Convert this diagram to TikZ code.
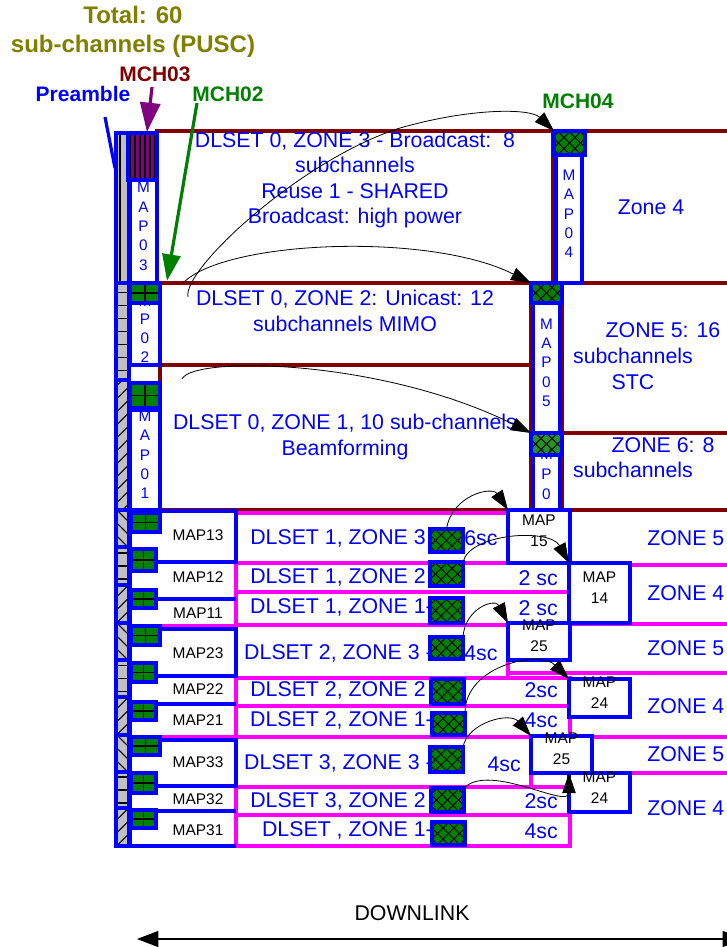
\documentclass[tikz,border=0pt]{standalone}
\usepackage{fontspec}
\setmainfont{Liberation Sans}
\usetikzlibrary{arrows.meta,fit}
\definecolor{zblue}{RGB}{0,0,255}
\definecolor{zred}{RGB}{128,0,0}
\definecolor{zpink}{RGB}{255,0,255}
\definecolor{zgreen}{RGB}{0,128,0}
\definecolor{zolive}{RGB}{128,128,0}
\definecolor{zpurple}{RGB}{128,0,128}
\definecolor{zgray}{RGB}{192,192,192}
\begin{document}
\begin{tikzpicture}[x=0.75pt,y=-0.75pt,
 zone/.style={draw=zred, line width=2.8pt, inner sep=0pt, outer sep=0pt},
 prow/.style={draw=zpink, line width=2.8pt, inner sep=0pt, outer sep=0pt},
 pline/.style={draw=zpink, line width=2.8pt},
 bline/.style={draw=zblue, line width=2.8pt},
 mapbox/.style={draw=zblue, line width=2.8pt, fill=white, inner sep=0pt, outer sep=0pt, align=center, text=zblue, font=\fontsize{11.5}{14.5}\selectfont},
 vtext/.style={text=zblue, align=center, inner sep=0pt, font=\fontsize{11.5}{14.5}\selectfont},
 rmap/.style={draw=zblue, line width=2.8pt, fill=white, inner sep=0pt, outer sep=0pt, align=right, font=\fontsize{11.6}{15.75}\selectfont},
 lbox/.style={draw=zblue, line width=2.8pt, fill=white, inner sep=0pt, outer sep=0pt},
 mchg/.style={draw=zblue, line width=2.6pt, fill=zgreen, inner sep=0pt, outer sep=0pt,
   path picture={\draw[black,line width=0.9pt] (path picture bounding box.north) -- (path picture bounding box.south) (path picture bounding box.west) -- (path picture bounding box.east);}},
 mchx/.style={draw=zblue, line width=2.6pt, fill=zgreen, inner sep=0pt, outer sep=0pt,
   path picture={\foreach \k in {-44,-33,...,44} {
     \draw[black,line width=0.7pt] ([xshift=\k*0.75pt]path picture bounding box.center) ++(-15pt,-15pt) -- ++(30pt,30pt);
     \draw[black,line width=0.7pt] ([xshift=\k*0.75pt]path picture bounding box.center) ++(-15pt,15pt) -- ++(30pt,-30pt);}}},
 stripe/.style={draw=zblue, line width=2.6pt, fill=zpurple, inner sep=0pt, outer sep=0pt,
   path picture={\foreach \k in {-12.5,-7.5,...,12.6} {
     \draw[black,line width=2pt] ([xshift=\k*0.75pt]path picture bounding box.north) -- ([xshift=\k*0.75pt]path picture bounding box.south);}}},
 pre/.style={draw=zblue, line width=2.6pt, fill=zgray, inner sep=0pt, outer sep=0pt},
 prev/.style={pre, path picture={\draw[black,line width=0.9pt] ([xshift=4*0.75pt]path picture bounding box.north west) -- ([xshift=4*0.75pt]path picture bounding box.south west);}},
 preh/.style={pre, path picture={\foreach \k in {-104,-91,...,104} {\draw[black,line width=0.8pt] ([yshift=\k*0.75pt]path picture bounding box.west) -- ([yshift=\k*0.75pt]path picture bounding box.east);}}},
 pref/.style={pre, path picture={\foreach \k in {-130,-117,...,130} {\draw[black,line width=0.8pt] ([yshift=\k*0.75pt]path picture bounding box.center) ++(-12pt,-12pt) -- ++(24pt,24pt);}}},
 preb/.style={pre, path picture={\foreach \k in {-130,-117,...,130} {\draw[black,line width=0.8pt] ([yshift=\k*0.75pt]path picture bounding box.center) ++(-12pt,12pt) -- ++(24pt,-24pt);}}},
 big/.style={font=\fontsize{16}{19}\selectfont, text=zblue, inner sep=0pt},
 small/.style={font=\fontsize{11.6}{14}\selectfont, text=black, inner sep=0pt},
 title/.style={font=\fontsize{18}{21.75}\selectfont\bfseries, text=zolive, align=center, inner sep=0pt},
 lab/.style={font=\fontsize{15.75}{18}\selectfont\bfseries, inner sep=0pt},
 arr/.style={-{Triangle[length=15pt,width=10pt]}, black, line width=0.6pt},
 dlarr/.style={{Triangle[length=16pt,width=12pt]}-{Triangle[length=16pt,width=12pt]}, black, line width=0.9pt}
]
\useasboundingbox (0,0) rectangle (726,947);
\fill[white] (0,0) rectangle (726,947);

% ---------- DLSET 0 zones ----------
\node (z3) [zone, fit={(157,131) (553,283)}] {};
\node (z4) [zone, fit={(553,131) (732,283)}] {};
\node (z2) [zone, fit={(160,283) (531,365)}] {};
\node (z1) [zone, fit={(160,365) (531,510)}] {};
\node (z5) [zone, fit={(562,283) (732,433)}] {};
\node (z6) [zone, fit={(562,433) (732,510)}] {};

% ---------- DLSET 1..3 rows ----------
\node (p13) [prow, fit={(236,513) (508,563)}] {};
\node (p12) [prow, fit={(236,563) (570,592)}] {};
\node (p11) [prow, fit={(236,592) (570,625)}] {};
\node (p23) [prow, fit={(236,625) (508,678)}] {};
\node (p22) [prow, fit={(236,678) (570,706)}] {};
\node (p21) [prow, fit={(236,706) (570,737)}] {};
\node (p33) [prow, fit={(236,737) (531,787)}] {};
\node (p32) [prow, fit={(236,787) (570,815)}] {};
\node (p31) [prow, fit={(236,815) (570,846)}] {};
\draw[pline] (570,565) -- (732,565);
\draw[pline] (570,624) -- (732,624);
\draw[pline] (508,660) -- (508,673) -- (732,673);
\draw[pline] (508,737) -- (732,737);
\draw[pline] (531,773) -- (732,773);
\draw[pline] (160,626) -- (236,626);
\draw[pline] (160,737) -- (236,737);

% ---------- preamble column ----------
\node (pre1) [prev, fit={(116,133) (129,283)}] {};
\node (pre2) [preh, fit={(116,283) (129,380)}] {};
\node (pre3) [pref, fit={(116,380) (129,510)}] {};
\node (pre4) [preb, fit={(116,510) (129,547)}] {};
\node (pre5) [preh, fit={(116,547) (129,585)}] {};
\node (pre6) [pref, fit={(116,585) (129,623)}] {};
\node (pre7) [preb, fit={(116,623) (129,660)}] {};
\node (pre8) [preh, fit={(116,660) (129,697)}] {};
\node (pre9) [pref, fit={(116,697) (129,735)}] {};
\node (pre10) [preb, fit={(116,735) (129,772)}] {};
\node (pre11) [preh, fit={(116,772) (129,808)}] {};
\node (pre12) [pref, fit={(116,808) (129,846)}] {};

% ---------- DLSET 0 map column ----------
\node (mch03) [stripe, fit={(128,133) (157,180)}] {};
\node (map03) [mapbox, fit={(130,180) (157,283)}] {M\\A\\P\\0\\3};
\node (map02) [mapbox, fit={(130,303) (160,365)}, font=\fontsize{11.5}{14}\selectfont] {M\\P\\0\\2};
\node (mch02) [mchg, fit={(130,283) (160,303)}] {};
\node (map01) [mapbox, fit={(130,410) (160,510)}] {M\\A\\P\\0\\1};
\node (mch01) [mchg, fit={(130,383) (160,408)}] {};

\node (map04) [mapbox, fit={(556,155) (582,283)}] {M\\A\\P\\0\\4};
\node (mch04) [mchx, fit={(554,131) (585,155)}] {};
\node (map05) [mapbox, fit={(533,303) (560,433)}] {M\\A\\P\\0\\5};
\node (mch05) [mchx, fit={(531,283) (562,303)}] {};
\node (map06) [mapbox, fit={(533,455) (560,510)}] {};
\node (map06t) [vtext, font=\fontsize{11.5}{15}\selectfont] at (546.5,474) {M\\P\\0};
\node (mch06) [mchx, fit={(531,433) (562,455)}, fill opacity=0.85] {};

% ---------- DLSET 1..3 left map column ----------
\draw[bline] (130,510) -- (130,846);
\node (l13) [lbox, fit={(130,511) (236,562)}] {};
\node (g13) [mchg, fit={(131,513) (160,532)}] {};
\node (g12) [mchg, fit={(131,549) (156,571)}] {};
\draw[bline] (156,599) -- (236,599);
\node (g11) [mchg, fit={(131,590) (156,608)}] {};
\node (l23) [lbox, fit={(130,629) (236,676)}] {};
\node (g23) [mchg, fit={(131,626) (160,645)}] {};
\node (g22) [mchg, fit={(131,663) (156,682)}] {};
\draw[bline] (156,704) -- (236,704);
\node (g21) [mchg, fit={(131,702) (156,720)}] {};
\node (l33) [lbox, fit={(130,740) (236,786)}] {};
\node (g33) [mchg, fit={(131,737) (160,755)}] {};
\node (g32) [mchg, fit={(131,773) (156,793)}] {};
\draw[bline] (156,811) -- (236,811);
\node (g31) [mchg, fit={(131,810) (156,828)}] {};
\draw[bline] (116,846) -- (236,846);

\node (t13) [small] at (198,535) {MAP13};
\node (t12) [small] at (198,577) {MAP12};
\node (t11) [small] at (198,613) {MAP11};
\node (t23) [small] at (198,653) {MAP23};
\node (t22) [small] at (198,689) {MAP22};
\node (t21) [small] at (198,720) {MAP21};
\node (t33) [small] at (198,762) {MAP33};
\node (t32) [small] at (198,799) {MAP32};
\node (t31) [small] at (198,830) {MAP31};

% ---------- zone texts ----------
\node (tz3) [big, align=center] at (355,180) {DLSET 0, ZONE 3 - Broadcast:\ \ 8\\subchannels\\Reuse 1 - SHARED\\Broadcast: high power};
\node (tz2) [big, align=center] at (345,311) {DLSET 0, ZONE 2: Unicast: 12\\subchannels MIMO};
\node (tz1) [big, align=center] at (345,437) {DLSET 0, ZONE 1, 10 sub-channels\\Beamforming};
\node (tz4) [big] at (651,207) {Zone 4};
\node (tz5a) [big] at (663,330) {ZONE 5: 16};
\node (tz5b) [big] at (633,356) {subchannels};
\node (tz5c) [big] at (633,382) {STC};
\node (tz6a) [big] at (663,445) {ZONE 6: 8};
\node (tz6b) [big] at (633,470) {subchannels};

\node (r13) [big, anchor=east] at (426,538) {DLSET 1, ZONE 3};
\node (r12) [big, anchor=east] at (426,577) {DLSET 1, ZONE 2};
\node (r11) [big, anchor=east] at (433,607) {DLSET 1, ZONE 1-};
\node (r23) [big, anchor=east] at (433,653) {DLSET 2, ZONE 3 -};
\node (r22) [big, anchor=east] at (426,690) {DLSET 2, ZONE 2};
\node (r21) [big, anchor=east] at (433,720) {DLSET 2, ZONE 1-};
\node (r33) [big, anchor=east] at (433,763) {DLSET 3, ZONE 3 -};
\node (r32) [big, anchor=east] at (426,801) {DLSET 3, ZONE 2};
\node (r31) [big, anchor=east] at (433,830) {DLSET , ZONE 1-};

\node (s13) [big, anchor=west] at (464,538) {6sc};
\node (s12) [big, anchor=east] at (558,578) {2 sc};
\node (s11) [big, anchor=east] at (558,608) {2 sc};
\node (s23) [big, anchor=west] at (464,653) {4sc};
\node (s22) [big, anchor=east] at (558,690) {2sc};
\node (s21) [big, anchor=east] at (558,720) {4sc};
\node (s33) [big, anchor=east] at (521,764) {4sc};
\node (s32) [big, anchor=east] at (558,801) {2sc};
\node (s31) [big, anchor=east] at (558,831) {4sc};

\node (zr1) [big, anchor=west] at (647,538) {ZONE 5};
\node (zr2) [big, anchor=west] at (647,593) {ZONE 4};
\node (zr3) [big, anchor=west] at (647,648) {ZONE 5};
\node (zr4) [big, anchor=west] at (647,706) {ZONE 4};
\node (zr5) [big, anchor=west] at (647,754) {ZONE 5};
\node (zr6) [big, anchor=west] at (647,808) {ZONE 4};

% ---------- crosshatched MCH boxes ----------
\node (c15) [mchx, fit={(430,529) (463,552)}] {};
\node (c14) [mchx, fit={(430,562) (463,586)}] {};
\node (c11) [mchx, fit={(430,598) (463,623)}] {};
\node (c25) [mchx, fit={(430,637) (463,659)}] {};
\node (c24) [mchx, fit={(431,679) (464,704)}] {};
\node (c21) [mchx, fit={(432,713) (465,735)}] {};
\node (c35) [mchx, fit={(430,747) (463,772)}] {};
\node (c34) [mchx, fit={(431,788) (464,812)}] {};
\node (c31) [mchx, fit={(432,822) (465,845)}] {};

% ---------- right MAP boxes ----------
\node (m15) [rmap, fit={(508,510) (570,563)}] {MAP\\15};
\node (m14) [rmap, fit={(569,563) (630,623)}] {MAP\\14};
\node (m25a) [rmap, fit={(508,623) (570,660)}] {MAP\\25};
\node (m24a) [rmap, fit={(569,679) (630,717)}] {MAP\\24};
\node (m25b) [rmap, fit={(531,736) (592,773)}] {MAP\\25};
\node (m24b) [rmap, fit={(569,773) (630,812)}] {MAP\\24};

% ---------- top labels ----------
\node (ttl) [title] at (133,32) {Total: 60\\sub-channels (PUSC)};
\node (lm03) [lab, text=zred] at (155,74) {MCH03};
\node (lpre) [lab, text=zblue] at (83,94) {Preamble};
\node (lm02) [lab, text=zgreen] at (228,94) {MCH02};
\node (lm04) [lab, text=zgreen] at (578,101) {MCH04};

\coordinate (pA) at (105,117);
\coordinate (pB) at (115,168);
\draw[zblue, line width=2.4pt] (pA) -- (pB);
\coordinate (a03s) at (152,87);
\coordinate (a03e) at (147,132);
\draw[zpurple, line width=2.4pt, -{Triangle[length=22pt,width=15pt]}] (a03s) -- (a03e);
\coordinate (a02s) at (197,103);
\coordinate (a02e) at (167,281);
\draw[zgreen, line width=2.4pt, -{Triangle[length=20pt,width=13.5pt]}] (a02s) -- (a02e);

% ---------- curved connectors ----------
\coordinate (s1) at (188,297);
\coordinate (s2) at (183,283);
\coordinate (s3) at (182,379);
\draw[arr] (s1) .. controls (182,270) and (300,160) .. (400,128) .. controls (470,108) and (530,108) .. (mch04.north west);
\draw[arr] (s2) .. controls (225,240) and (430,232) .. (mch05.north west);
\draw[arr] (s3) .. controls (192,356) and (380,358) .. (mch06.north west);
\draw[arr] (c15.north) .. controls (452,495) and (492,486) .. (m15.north west);
\draw[arr] (c14.north east) .. controls (470,533) and (550,528) .. (m14.north west);
\draw[arr] (c25.north east) .. controls (465,608) and (495,598) .. (m25a.north west);
\draw[arr] (c21.north east) .. controls (465,665) and (540,650) .. (m24a.north west);
\draw[arr] (c35.north east) .. controls (468,722) and (510,712) .. (m25b.north west);
\draw[arr] (c34.north east) .. controls (490,762) and (569,810) .. (m24b.north west);

% ---------- downlink ----------
\node (dl) [font=\fontsize{16}{19}\selectfont, inner sep=0pt] at (412,913) {DOWNLINK};
\coordinate (dlL) at (137,939);
\coordinate (dlR) at (744,939);
\draw[dlarr] (dlL) -- (dlR);
\end{tikzpicture}
\end{document}
